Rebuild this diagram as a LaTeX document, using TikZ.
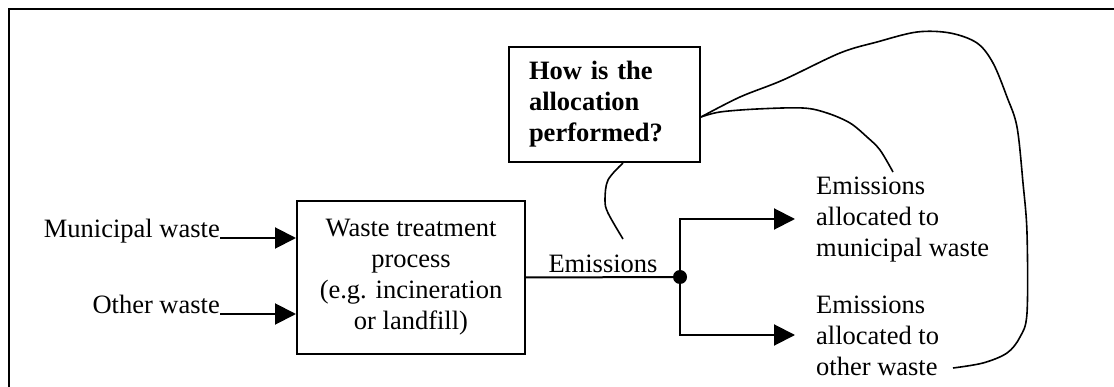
\documentclass[tikz,border=0pt]{standalone}
\usepackage{fontspec}
\setmainfont{Liberation Serif}
\usetikzlibrary{arrows.meta}
\newcommand\diafont{\fontsize{26.5}{31}\selectfont}
\begin{document}
\begin{tikzpicture}[x=1pt,y=-1pt,
  every node/.style={font=\diafont},
  line/.style={line width=2pt},
  flow/.style={line, -{Triangle[length=21pt,width=21pt]}},
  box/.style={draw, line width=2pt, inner sep=0pt},
  label/.style={inner sep=0pt},
  sketch/.style={line width=1.6pt, smooth, tension=0.55}
]
\useasboundingbox (0,0) rectangle (1114,387);
% outer frame
\draw[line width=2.6pt] (9,387) -- (9,9) -- (1114,9);

% process box and its inputs
\node[box, minimum width=228pt, minimum height=153pt, align=center] (proc) at (411,277.5)
  {Waste treatment\\process\\(e.g. incineration\\or landfill)};
\node[label, anchor=base east] (mun) at (220,238) {Municipal waste};
\node[label, anchor=base east] (oth) at (220,314) {Other waste};
\draw[flow] (mun.base east) -- (mun.base east -| proc.west);
\draw[flow] (oth.base east) -- (oth.base east -| proc.west);

% emissions and the split
\node[label, anchor=base] (em) at (603,273) {Emissions};
\node[circle, fill, inner sep=0pt, minimum size=14pt] (dot) at (680,277) {};
\draw[line] (proc.east) -- (dot);
\node[label, anchor=west, align=left] (ra) at (816,220) {Emissions\\allocated to\\municipal waste};
\node[label, anchor=west, align=left] (rb) at (816,336) {Emissions\\allocated to\\other waste};
\draw[flow] (dot.center) |- ([xshift=-21pt,yshift=1pt]ra.west);
\draw[flow] (dot.center) |- ([xshift=-21pt,yshift=1pt]rb.west);

% question box
\node[box, font=\diafont\bfseries, minimum width=191pt, minimum height=115pt,
  text width=151pt, align=left] (q) at (604.5,104.5) {How is the\\allocation\\performed?};

% hand-drawn pointers from the question
\coordinate (qa) at ([yshift=-12.5pt]q.east);
\coordinate (qb) at ([xshift=18.5pt]q.south);
\coordinate (tipA) at (893,172);
\coordinate (tipB) at (953,368);
\coordinate (tipE) at (623,239);
\draw[sketch] plot coordinates {(qa) (740,97) (783,80) (840,53) (877,42) (917,32) (950,33)
  (977,43) (993,63) (1007,97) (1017,127) (1023,183) (1027,233) (1027,313) (1020,337)
  (1007,353) (983,363) (tipB)};
\draw[sketch] plot coordinates {(qa) (720,112) (757,109) (803,108) (827,113) (850,123)
  (867,137) (880,150) (tipA)};
\draw[sketch] plot coordinates {(qb) (608,180) (605,200) (608,213) (tipE)};
\end{tikzpicture}
\end{document}
